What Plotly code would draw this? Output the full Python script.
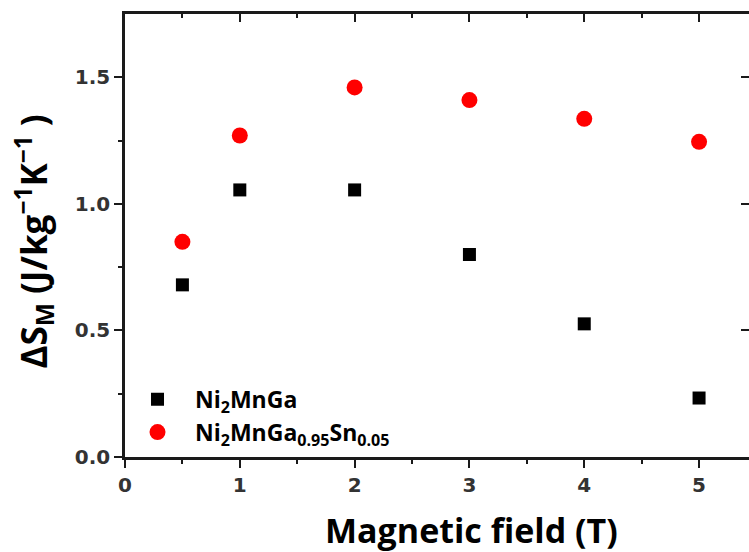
import plotly.graph_objects as go

field = [0.5, 1, 2, 3, 4, 5]
ni2mnga = [0.68, 1.055, 1.055, 0.80, 0.526, 0.233]
ni2mngasn = [0.85, 1.27, 1.46, 1.41, 1.336, 1.245]
name1 = "Ni<sub>2</sub>MnGa"
name2 = "Ni<sub>2</sub>MnGa<sub>0.95</sub>Sn<sub>0.05</sub>"
xtitle = "Magnetic field (T)"
ytitle = "ΔS<sub>M</sub> (J/kg<sup>−1</sup>K<sup>−1</sup> )"

XR = [0, 5.435]
YR = [0, 1.75]

fig = go.Figure()
fig.add_trace(go.Scatter(x=field, y=ni2mnga, mode="markers", name=name1,
                         marker=dict(symbol="square", size=13, color="black"),
                         legendgroup="a"))
fig.add_trace(go.Scatter(x=field, y=ni2mngasn, mode="markers", name=name2,
                         marker=dict(symbol="circle", size=16, color="#ff0000"),
                         legendgroup="b"))
fig.add_trace(go.Scatter(x=[None], y=[None], xaxis="x2", yaxis="y2",
                         showlegend=False, hoverinfo="skip"))

tickfont = dict(family="DejaVu Sans", size=20, color="#333333", weight=700)

fig.update_layout(
    width=749, height=552,
    margin=dict(l=125, r=0, t=14, b=95),
    paper_bgcolor="white", plot_bgcolor="white",
    showlegend=True,
    legend=dict(x=-0.008, y=0.179, xanchor="left", yanchor="top",
                bgcolor="rgba(0,0,0,0)", tracegroupgap=0, itemwidth=65,
                font=dict(family="Open Sans", size=23, color="black", weight=700)),
    xaxis=dict(range=XR, showgrid=False, zeroline=False, showline=True,
               linecolor="#1a1a1a", linewidth=2.5, ticks="outside", ticklen=8,
               tickwidth=2, tickcolor="#1a1a1a", tickvals=[0, 1, 2, 3, 4, 5],
               tickfont=tickfont,
               minor=dict(tickvals=[0.5, 1.5, 2.5, 3.5, 4.5], ticks="outside",
                          ticklen=4, tickwidth=2, tickcolor="#1a1a1a")),
    yaxis=dict(range=YR, showgrid=False, zeroline=False, showline=True,
               linecolor="#1a1a1a", linewidth=2.5, ticks="outside", ticklen=8,
               tickwidth=2, tickcolor="#1a1a1a", tickvals=[0, 0.5, 1.0, 1.5],
               ticktext=["0.0", "0.5", "1.0", "1.5"], tickfont=tickfont,
               minor=dict(tickvals=[0.25, 0.75, 1.25], ticks="outside",
                          ticklen=4, tickwidth=2, tickcolor="#1a1a1a")),
    xaxis2=dict(range=XR, overlaying="x", side="top", anchor="y2",
                showgrid=False, zeroline=False, showline=True,
                linecolor="#1a1a1a", linewidth=2.5, ticks="inside", ticklen=8,
                tickwidth=2, tickcolor="#1a1a1a", tickvals=[0, 1, 2, 3, 4, 5],
                showticklabels=False,
                minor=dict(tickvals=[0.5, 1.5, 2.5, 3.5, 4.5], ticks="inside",
                           ticklen=4, tickwidth=2, tickcolor="#1a1a1a")),
    yaxis2=dict(range=YR, overlaying="y", side="right", anchor="x2",
                showgrid=False, zeroline=False, showline=False,
                ticks="inside", ticklen=8, tickwidth=2, tickcolor="#1a1a1a",
                tickvals=[0, 0.5, 1.0, 1.5], showticklabels=False),
    annotations=[
        dict(text=xtitle, xref="paper", yref="paper", x=0.556, y=-0.165,
             xanchor="center", yanchor="middle", showarrow=False,
             font=dict(family="Open Sans", size=34, color="black", weight=700)),
        dict(text=ytitle, xref="paper", yref="paper", x=-0.147, y=0.487,
             xanchor="center", yanchor="middle", showarrow=False, textangle=-90,
             font=dict(family="Open Sans", size=35, color="black", weight=700)),
    ],
)

fig.write_html("out.html")
